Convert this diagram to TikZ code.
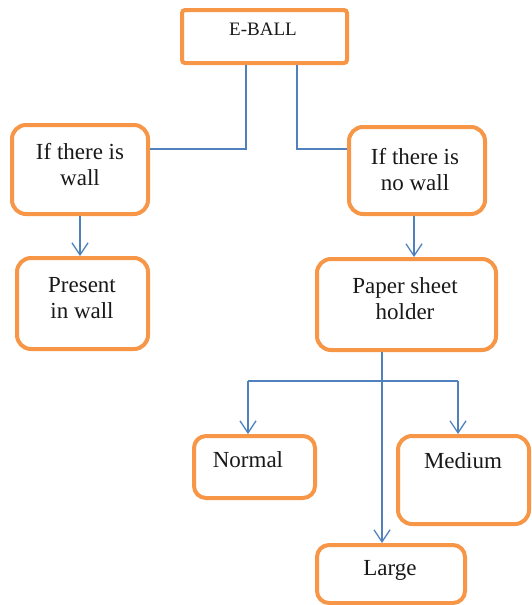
\documentclass[tikz,border=0pt]{standalone}
\usepackage{fontspec}
\setmainfont{Liberation Serif}
\usetikzlibrary{arrows.meta}
\definecolor{boxorange}{HTML}{F79646}
\definecolor{linkblue}{HTML}{4F81BD}
\begin{document}
\begin{tikzpicture}[x=1pt,y=-1pt,
  box/.style={draw=boxorange,line width=4pt,rounded corners=14pt,inner sep=0pt,fill=white},
  txt/.style={align=center,font=\fontsize{23}{26}\selectfont,text=black!90,inner sep=0pt},
  conn/.style={draw=linkblue,line width=1.3pt},
  arr/.style={conn,-{Straight Barb[length=12pt,width=16pt,line width=1.3pt]}}]
\useasboundingbox (0,0) rectangle (532,605);
% boxes
\node[box,rounded corners=3pt,minimum width=165pt,minimum height=53pt] (eball) at (264.5,36.5) {};
\node[box,minimum width=136pt,minimum height=89pt] (wall) at (80,169.5) {};
\node[box,minimum width=131pt,minimum height=91pt] (present) at (82.5,303.5) {};
\node[box,minimum width=136pt,minimum height=87pt] (nowall) at (417,170.5) {};
\node[box,minimum width=179pt,minimum height=91pt] (holder) at (406.5,304.5) {};
\node[box,rounded corners=12pt,minimum width=121pt,minimum height=62pt] (normal) at (254.5,467) {};
\node[box,minimum width=131pt,minimum height=88pt] (medium) at (463.5,480) {};
\node[box,rounded corners=12pt,minimum width=148pt,minimum height=58pt] (large) at (391,574) {};
% texts
\node[txt,font=\fontsize{19}{22}\selectfont] (teball) at (263,29) {E-BALL};
\node[txt] (twall) at (80,165) {If there is\\wall};
\node[txt] (tpresent) at (82,298) {Present\\in wall};
\node[txt] (tnowall) at (415,170) {If there is\\no wall};
\node[txt] (tholder) at (405,299) {Paper sheet\\holder};
\node[txt] (tnormal) at (248,460) {Normal};
\node[txt] (tmedium) at (463,461) {Medium};
\node[txt] (tlarge) at (390,570) {Large};
% junction coordinates
\coordinate (jl) at (246,149);
\coordinate (jr) at (297,149);
\coordinate (aw) at (80,0);
\coordinate (an) at (414,0);
\coordinate (ah) at (382,381);
\coordinate (bn) at (248,381);
\coordinate (bm) at (458,381);
% connectors
\draw[conn] (eball.south -| jl) |- (wall.east |- jl);
\draw[conn] (eball.south -| jr) |- (nowall.west |- jr);
\draw[arr] (wall.south -| aw) -- (present.north -| aw);
\draw[arr] (nowall.south -| an) -- (holder.north -| an);
\draw[arr] (holder.south -| ah) -- (large.north -| ah);
\draw[conn] (bn) -- (bm);
\draw[arr] (bn) -- (normal.north -| bn);
\draw[arr] (bm) -- (medium.north -| bm);
\end{tikzpicture}
\end{document}
